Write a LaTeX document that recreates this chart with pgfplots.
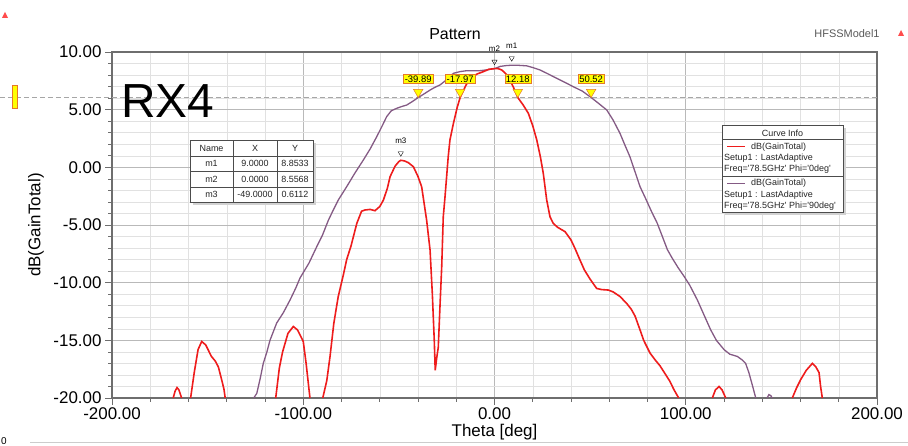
\documentclass[border=0pt]{standalone}
\usepackage{fontspec}
\setmainfont{Liberation Sans}
\usepackage{pgfplots}
\usepackage{pgfplotstable}
\pgfplotsset{compat=1.18}
\usepackage{xcolor}
\definecolor{phi0}{RGB}{238,28,28}
\definecolor{phi90}{RGB}{132,90,132}
\definecolor{gridmaj}{RGB}{185,185,185}
\definecolor{gridmin}{RGB}{225,225,225}
\definecolor{frame}{RGB}{110,110,110}
\definecolor{mkyellow}{RGB}{255,255,0}
\definecolor{mkedge}{RGB}{230,120,40}
\newcommand{\fs}[1]{\fontsize{#1}{#1}\selectfont}

% Phi = 0deg cut (red), nan splits the lobes clipped at -20 dB
\pgfplotstableread{
x y
-168 -20
-167 -19.4
-166 -19.1
-165 -19.3
-164.2 -19.7
-163.6 -20
nan nan
-158.9 -20
-157 -17.8
-155 -15.8
-153.1 -15.1
-151 -15.4
-148 -16.4
-146 -16.8
-144.4 -17.3
-143 -18.2
-141.5 -19.2
-140.8 -20
nan nan
-114.4 -20
-112.5 -17.4
-110.8 -16.0
-108 -14.4
-105.2 -13.8
-103 -14.1
-100 -15.1
-98.5 -17
-96.5 -20
nan nan
-89.8 -20
-87.7 -18.5
-86 -16.4
-84 -13.5
-81.7 -11.2
-79 -9.3
-77.3 -8.0
-75 -6.8
-72 -4.86
-69.5 -3.8
-67.7 -3.7
-65 -3.65
-62.5 -3.76
-60 -3.4
-58.1 -2.84
-56 -1.8
-54.6 -0.81
-52 0.1
-50 0.5
-49 0.61
-47 0.55
-45 0.4
-42.4 0.05
-40 -0.8
-38.1 -1.68
-37 -2.9
-35.5 -4.57
-33.7 -7.17
-32.5 -11
-31.5 -15
-31 -17.6
-30.2 -16.5
-29.4 -15.6
-28.5 -12
-27.6 -8.6
-26.8 -4.3
-25.9 -2.6
-24.2 0.92
-23.3 2.37
-21.5 3.8
-19.5 5.2
-17.97 6.05
-15 7.1
-12.8 7.72
-9 8.1
-5.9 8.29
-3 8.5
0 8.5568
2 8.55
3.8 8.44
6 8.1
8.1 7.57
10 6.9
12.18 6.05
15 5.4
17.7 4.68
20 3.6
22.1 2.37
24 0.9
25.5 -0.52
27.3 -2.84
29 -4.28
30.7 -4.86
33 -5.2
36.9 -5.58
40 -6.3
42 -7.0
44.7 -8.04
47 -8.9
50 -9.7
53.4 -10.5
56 -10.6
59.5 -10.64
62 -10.8
65.6 -11.2
69.1 -11.8
71.5 -12.3
73.5 -12.9
76.1 -14.1
78 -15.0
81.3 -16.1
84 -16.7
86.5 -17.2
89.2 -17.9
91.5 -18.5
93.9 -19.3
96.3 -20
nan nan
113.9 -20
115.5 -19.3
117.4 -19.0
119 -19.3
120.9 -20
nan nan
155.7 -20
158 -19.1
160.1 -18.4
163 -17.6
166.2 -17.0
168 -17.3
169.7 -17.8
170.5 -19
171.4 -20
}\cutzero

% Phi = 90deg cut (purple)
\pgfplotstableread{
x y
-125.9 -20
-124.3 -19.6
-122.5 -18.3
-120.9 -17.0
-119 -16.0
-117.4 -15.0
-113.9 -13.5
-110.4 -12.6
-106.9 -11.5
-104 -10.5
-101.7 -9.6
-97 -8.3
-93 -6.9
-90 -5.9
-86.9 -4.6
-84 -3.6
-81.7 -2.84
-77.3 -1.68
-73 -0.5
-68.6 0.63
-65 1.6
-61.6 2.65
-59 3.5
-56.4 4.39
-54 4.9
-51.1 5.12
-48 5.3
-45.9 5.40
-43 5.7
-39.89 6.05
-36.5 6.4
-33.7 6.70
-31 6.95
-28.5 7.14
-25 7.6
-21.5 8.15
-18 8.3
-14.5 8.38
-11 8.38
-7.6 8.38
-4 8.45
0 8.5568
3 8.75
6 8.82
9 8.8533
12 8.85
16.8 8.8
20 8.65
23.8 8.44
28 8.1
32.5 7.72
37 7.35
41.2 6.99
46 6.6
50.52 6.05
54 5.6
58.7 4.97
62 4.1
65.6 2.95
68 2.0
70.8 0.92
73.5 -0.4
76.1 -1.68
79 -2.7
82 -3.8
85.1 -4.85
88 -6.1
90.4 -7.14
93 -7.9
96 -8.7
99.1 -9.45
102 -10.2
106 -11.48
109 -12.6
113 -14.08
116 -15.0
120 -15.8
123 -16.2
127 -16.4
129.5 -16.7
131.3 -17.0
133 -17.8
135 -19
136.6 -20
nan nan
142.5 -20
143.5 -19.7
144.5 -19.8
145.2 -20
}\cutninety

\pgfplotstableread{
x y lab
-39.89 6.05 -39.89
-17.97 6.05 -17.97
12.18 6.05 12.18
50.52 6.05 50.52
}\crossings

\pgfplotstableread{
x y lab
9 8.8533 m1
0 8.5568 m2
-49 0.6112 m3
}\markers

\begin{document}
\begin{tikzpicture}[x=1bp,y=1bp]
\useasboundingbox (0,0) rectangle (908,446);
\begin{axis}[
    at={(112bp,48bp)}, anchor=south west,
    scale only axis, width=765bp, height=346bp,
    xmin=-200, xmax=200, ymin=-20, ymax=10,
    xtick={-200,-100,...,200}, minor x tick num=4,
    ytick={-20,-15,...,10}, minor y tick num=4,
    grid=both,
    major grid style={gridmaj, line width=0.6bp},
    minor grid style={gridmin, line width=0.5bp},
    axis line style={frame, line width=1.2bp},
    tick align=outside, tick pos=left,
    major tick length=7bp, minor tick length=4bp,
    tick style={frame, line width=0.6bp},
    ticklabel style={font=\fs{17}},
    xticklabel style={yshift=1bp},
    /pgf/number format/fixed,
    /pgf/number format/fixed zerofill,
    /pgf/number format/precision=2,
    /pgf/number format/assume math mode=true,
    xlabel={Theta [deg]}, ylabel={dB(GainTotal)},
    every axis x label/.style={at={(axis description cs:0.5,0)}, yshift=-34bp, anchor=center, font=\fs{17}},
    every axis y label/.style={at={(axis description cs:0,0.5)}, xshift=-76bp, rotate=90, anchor=center, font=\fs{17}},
    clip=false,
    unbounded coords=jump,
]
\addplot[gray!70, dash pattern=on 5bp off 3bp, line width=0.8bp] coordinates {(-258.6,6.05) (200,6.05)};
\addplot[phi90, line width=1.3bp] table {\cutninety};
\addplot[phi0, line width=1.6bp] table {\cutzero};
\addplot[only marks, mark=triangle*, mark size=5.5bp,
    mark options={yshift=5.5bp, rotate=180, fill=mkyellow, draw=mkedge, line width=0.5bp},
    nodes near coords, point meta=explicit symbolic,
    every node near coord/.style={anchor=south, yshift=8.5bp, fill=mkyellow, draw=mkedge,
        inner sep=1.2bp, font=\fs{9.5}, text=black}]
    table[meta=lab] {\crossings};
\addplot[only marks, mark=triangle, mark size=3bp,
    mark options={yshift=7bp, rotate=180, black, line width=0.4bp},
    nodes near coords, point meta=explicit symbolic,
    every node near coord/.style={anchor=south, yshift=9bp, font=\fs{8}, inner sep=0.5bp}]
    table[meta=lab] {\markers};
\end{axis}

% titles and labels around the plot
\node[font=\fs{16}] at (455,412) {Pattern};
\node[font=\fs{11}, text=gray!70!black] at (847,412) {HFSSModel1};
\node[font=\fs{48}, anchor=base west, inner sep=0] at (121,328) {RX4};
\fill[red!70] (2,428)--(8,428)--(5,434)--cycle;
\fill[red!70] (898,410)--(904,410)--(901,416)--cycle;
\draw[mkedge, fill=mkyellow, line width=0.5bp] (12.5,338) rectangle (17.5,361);
\draw[gray!40, line width=1bp] (30,3)--(908,3);
\node[font=\fs{10}, anchor=south west, inner sep=0] at (1,1) {0};

% marker table
\begin{scope}[font=\fs{9}, text=black!85]
\fill[gray!35] (193,241) rectangle (316,303);
\draw[gray!60!black, line width=0.6bp, fill=white] (190,244) rectangle (313,306);
\draw[gray!60!black, line width=0.5bp] (190,290)--(313,290) (190,274.5)--(313,274.5)
    (190,259)--(313,259) (233,244)--(233,306) (277,244)--(277,306);
\node at (211.5,298) {Name}; \node at (255,298) {X}; \node at (295,298) {Y};
\node at (211.5,282.2) {m1}; \node at (255,282.2) {9.0000}; \node at (295,282.2) {8.8533};
\node at (211.5,266.7) {m2}; \node at (255,266.7) {0.0000}; \node at (295,266.7) {8.5568};
\node at (211.5,251.5) {m3}; \node at (255,251.5) {-49.0000}; \node at (295,251.5) {0.6112};
\end{scope}

% curve info box
\begin{scope}[font=\fs{9}, text=black!85]
\fill[gray!35] (725,231) rectangle (846,318);
\draw[gray!60!black, line width=0.6bp, fill=white] (722,234) rectangle (843,321);
\node at (782.5,313) {Curve Info};
\draw[gray!60!black, line width=0.5bp] (722,307)--(843,307) (722,269.3)--(843,269.3);
\draw[phi0, line width=1.5bp] (727,299.3)--(745,299.3);
\node[anchor=west, inner sep=0] at (751,299.3) {dB(GainTotal)};
\node[anchor=west, inner sep=0] at (724,288) {Setup1 : LastAdaptive};
\node[anchor=west, inner sep=0] at (724,277) {Freq=\textquotesingle 78.5GHz\textquotesingle{} Phi=\textquotesingle 0deg\textquotesingle};
\draw[phi90, line width=1.5bp] (727,262.7)--(745,262.7);
\node[anchor=west, inner sep=0] at (751,262.7) {dB(GainTotal)};
\node[anchor=west, inner sep=0] at (724,251) {Setup1 : LastAdaptive};
\node[anchor=west, inner sep=0] at (724,240) {Freq=\textquotesingle 78.5GHz\textquotesingle{} Phi=\textquotesingle 90deg\textquotesingle};
\end{scope}
\end{tikzpicture}
\end{document}
